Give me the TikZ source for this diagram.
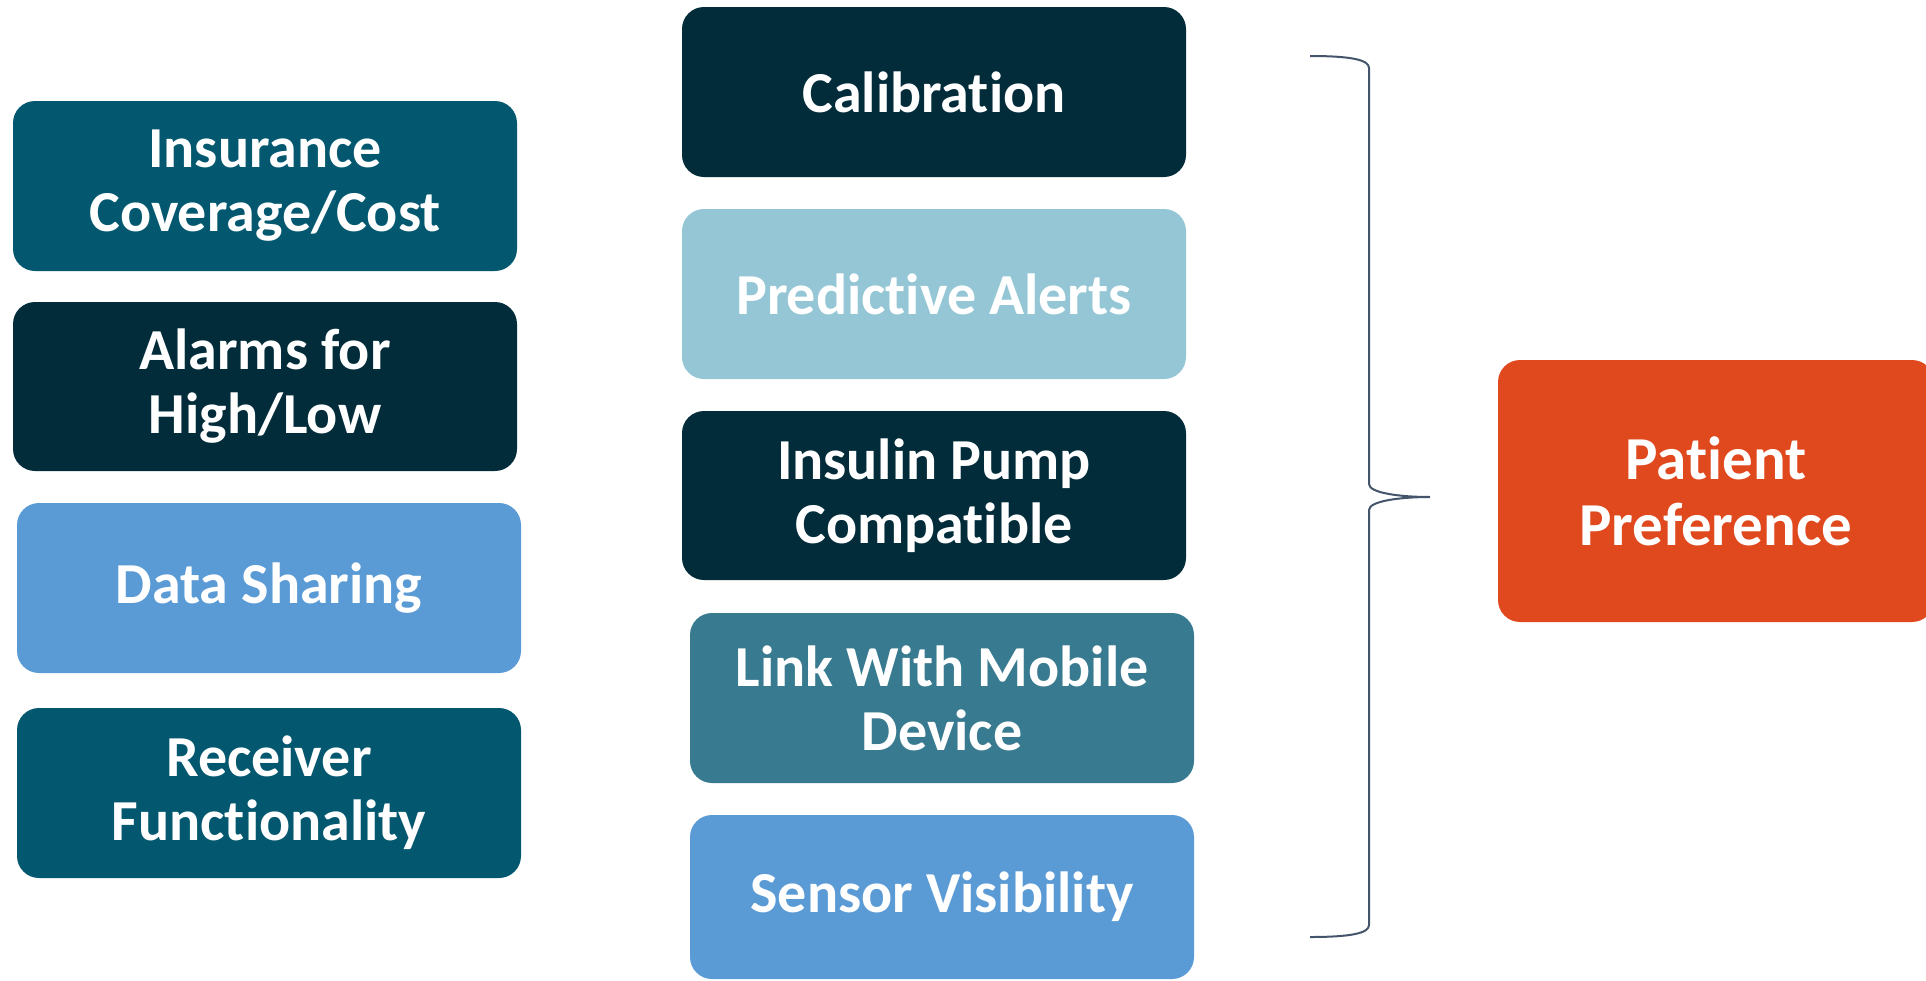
\documentclass[tikz,border=0pt]{standalone}
\usepackage{fontspec}
\setmainfont{Carlito}[Ligatures=NoCommon]
\definecolor{cdark}{HTML}{022C3A}
\definecolor{cteal}{HTML}{03586F}
\definecolor{clight}{HTML}{94C6D5}
\definecolor{cblue}{HTML}{5B9BD5}
\definecolor{cmid}{HTML}{387A8F}
\definecolor{corange}{HTML}{E0491E}
\definecolor{cbrace}{HTML}{44546A}
\begin{document}
\begin{tikzpicture}[x=1pt,y=-1pt,
  fbox/.style={rounded corners=22pt, inner sep=0pt, minimum width=504pt, minimum height=170pt,
    align=center, text=white, font=\bfseries\fontsize{58}{64}\selectfont},
  bracestyle/.style={draw=cbrace, line width=2pt}]
\useasboundingbox (0,0) rectangle (1926,980);
\node[fbox, fill=cteal] (ins) at (265,186) {Insurance\\Coverage/Cost};
\node[fbox, fill=cdark, minimum height=169pt] (alm) at (265,386.5) {Alarms for\\High/Low};
\node[fbox, fill=cblue] (dat) at (269,588) {Data Sharing};
\node[fbox, fill=cteal] (rec) at (269,793) {Receiver\\Functionality};
\node[fbox, fill=cdark] (cal) at (934,92) {Calibration};
\node[fbox, fill=clight] (pre) at (934,294) {Predictive Alerts};
\node[fbox, fill=cdark, minimum height=169pt] (ipc) at (934,495.5) {Insulin Pump\\Compatible};
\node[fbox, fill=cmid] (lnk) at (942,698) {Link With Mobile\\Device};
\node[fbox, fill=cblue, minimum height=164pt] (sen) at (942,897) {Sensor Visibility};
\node[fbox, fill=corange, minimum width=436pt, minimum height=262pt,
  font=\bfseries\fontsize{61}{66}\selectfont] (pat) at (1716,491) {Patient\\Preference};
\coordinate (bt) at (1310,56);
\coordinate (bb) at (1310,937);
\coordinate (tip) at (1430,497);
\draw[bracestyle] (bt) .. controls (1352,56) and (1369,60) .. (1369,68)
  -- (1369,484) .. controls (1369,493) and (1400,497) .. (tip)
  .. controls (1400,497) and (1369,501) .. (1369,510)
  -- (1369,925) .. controls (1369,933) and (1352,937) .. (bb);
\end{tikzpicture}
\end{document}
